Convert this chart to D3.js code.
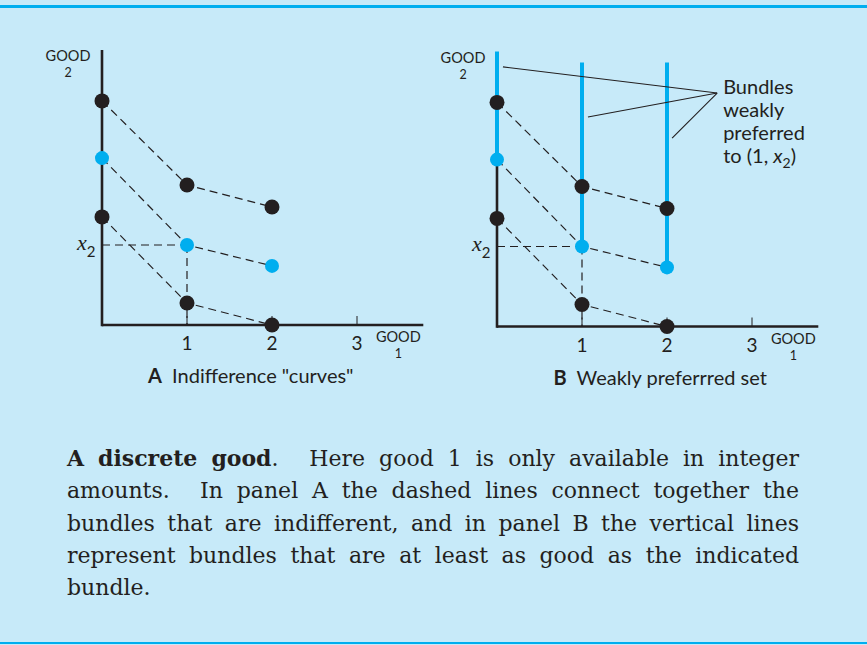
<!DOCTYPE html>
<html>
<head>
<meta charset="utf-8">
<script src="https://cdn.jsdelivr.net/npm/d3@7"></script>
<style>
    html, body { margin: 0; padding: 0; background: #c7eaf9; }
    svg { display: block; }
</style>
</head>
<body>
<div id="chart"></div>
<script>

// good 1 is only available in integer amounts
var goods1 = [0, 1, 2];
var tickValues = [1, 2, 3];
var tickLabels = ["1", "2", "3"];

// the three indifference "curves" (good 2 amounts at good1 = 0, 1, 2)
var curveTop = [8.15, 5.09, 4.29];
var curveMid = [6.07, 2.91, 2.15];
var curveLow = [3.93, 0.80, 0.00];

// top ends of the weakly preferred lines in panel B
var prefTop = [10.0, 9.6, 9.6];

// leader lines: start points (data units) and the label anchor
var leaderStarts = [[0.07, 9.44], [1.07, 7.62], [2.06, 6.85]];
var leaderAnchor = [2.59, 8.49];
var noteLines = ["Bundles", "weakly", "preferred"];

var captionLines = [
    "discrete good. Here good 1 is only available in integer",
    "amounts. In panel A the dashed lines connect together the",
    "bundles that are indifferent, and in panel B the vertical lines",
    "represent bundles that are at least as good as the indicated",
    "bundle."
];

var BLUE = "#00aeef";
var INK = "#231f20";
var SANS = "Lato, 'Open Sans', sans-serif";
var SERIF = "'DejaVu Serif', 'Liberation Serif', serif";

var W = 867, H = 645;

var svg = d3.select("#chart")
    .append("svg")
    .attr("width", W)
    .attr("height", H);

svg.append("rect")
    .attr("width", W)
    .attr("height", H)
    .attr("fill", "#c7eaf9");

// frame rules
svg.append("rect").attr("x", 0).attr("y", 5).attr("width", W).attr("height", 3).attr("fill", BLUE);
svg.append("rect").attr("x", 0).attr("y", 642).attr("width", W).attr("height", 2).attr("fill", BLUE);

var x = d3.scaleLinear().domain([0, 3.78]).range([0, 85 * 3.78]);
var y = d3.scaleLinear().domain([0, 10]).range([275, 0]);

var curves = [
    { vals: curveTop, color: INK },
    { vals: curveMid, color: BLUE },
    { vals: curveLow, color: INK }
];

var line = d3.line()
    .x(function (d, i) { return x(goods1[i]); })
    .y(function (d) { return y(d); });

function panel(g, showPref) {

    var x2 = curveMid[1];

    // dashed guides to (1, x2)
    g.append("line")
        .attr("x1", x(0)).attr("x2", x(1))
        .attr("y1", y(x2)).attr("y2", y(x2))
        .attr("stroke", INK).attr("stroke-width", 1.2)
        .attr("stroke-dasharray", "8,5");

    g.append("line")
        .attr("x1", x(1)).attr("x2", x(1))
        .attr("y1", y(x2)).attr("y2", y(0))
        .attr("stroke", INK).attr("stroke-width", 1.2)
        .attr("stroke-dasharray", "8,5");

    g.selectAll("path.curve")
        .data(curves)
        .enter().append("path")
        .attr("class", "curve")
        .attr("d", function (d) { return line(d.vals); })
        .attr("fill", "none")
        .attr("stroke", INK)
        .attr("stroke-width", 1.2)
        .attr("stroke-dasharray", "8,5");

    // axes
    g.append("line")
        .attr("x1", x(0)).attr("x2", x(3.78))
        .attr("y1", y(0)).attr("y2", y(0))
        .attr("stroke", INK).attr("stroke-width", 2.6);

    g.append("line")
        .attr("x1", x(0)).attr("x2", x(0))
        .attr("y1", showPref ? y(curveMid[0]) : y(10)).attr("y2", y(0) + 1.3)
        .attr("stroke", INK).attr("stroke-width", 2.6);

    g.selectAll("line.tick")
        .data(tickValues)
        .enter().append("line")
        .attr("class", "tick")
        .attr("x1", x).attr("x2", x)
        .attr("y1", y(0)).attr("y2", y(0) - 9)
        .attr("stroke", INK).attr("stroke-width", 1);

    g.selectAll("text.tick")
        .data(tickValues)
        .enter().append("text")
        .attr("class", "tick")
        .attr("x", x)
        .attr("y", y(0) + 25)
        .attr("text-anchor", "middle")
        .attr("font-family", SANS)
        .attr("font-size", 19)
        .attr("fill", INK)
        .text(function (d, i) { return tickLabels[i]; });

    // axis names, the small "1"/"2" sits below GOOD
    function axisName(cx, by, sub) {
        g.append("text")
            .attr("x", cx).attr("y", by)
            .attr("text-anchor", "middle")
            .attr("font-family", SANS)
            .attr("font-size", 14.5)
            .attr("fill", INK)
            .text("GOOD");
        g.append("text")
            .attr("x", cx).attr("y", by + 16)
            .attr("text-anchor", "middle")
            .attr("font-family", SANS)
            .attr("font-size", 12.5)
            .attr("fill", INK)
            .text(sub);
    }
    axisName(x(3.78) - 25, y(0) + 17, "1");
    axisName(x(0) - 34, y(10) + 11, "2");

    var lx = g.append("text")
        .attr("x", x(0) - 25)
        .attr("y", y(x2) + 5)
        .attr("font-family", "'Liberation Serif', serif")
        .attr("font-size", 22)
        .attr("fill", INK);
    lx.append("tspan").attr("font-style", "italic").text("x");
    lx.append("tspan").attr("font-size", 15).attr("font-family", SANS).attr("dy", 7).text("2");

    if (showPref) {
        g.selectAll("line.pref")
            .data(goods1)
            .enter().append("line")
            .attr("class", "pref")
            .attr("x1", x).attr("x2", x)
            .attr("y1", function (d, i) { return y(prefTop[i]); })
            .attr("y2", function (d, i) { return y(curveMid[i]); })
            .attr("stroke", BLUE)
            .attr("stroke-width", 4);
    }

    // bundles
    curves.forEach(function (c) {
        g.selectAll(null)
            .data(c.vals)
            .enter().append("circle")
            .attr("cx", function (d, i) { return x(goods1[i]); })
            .attr("cy", function (d) { return y(d); })
            .attr("r", c.color === BLUE ? 7 : 7.5)
            .attr("fill", c.color);
    });
}

var gA = svg.append("g").attr("transform", "translate(102,50)");
panel(gA, false);

var gB = svg.append("g").attr("transform", "translate(497,51.5)");
panel(gB, true);

// leader lines + note in panel B
gB.selectAll("line.leader")
    .data(leaderStarts)
    .enter().append("line")
    .attr("class", "leader")
    .attr("x1", function (d) { return x(d[0]); })
    .attr("y1", function (d) { return y(d[1]); })
    .attr("x2", x(leaderAnchor[0]))
    .attr("y2", y(leaderAnchor[1]))
    .attr("stroke", INK)
    .attr("stroke-width", 1.1);

var note = gB.append("text")
    .attr("x", x(leaderAnchor[0]) + 6)
    .attr("y", y(leaderAnchor[1]) + 1)
    .attr("font-family", SANS)
    .attr("font-size", 20)
    .attr("fill", INK);

noteLines.forEach(function (t, i) {
    note.append("tspan")
        .attr("x", x(leaderAnchor[0]) + 6)
        .attr("dy", i === 0 ? 0 : 23)
        .text(t);
});

note.append("tspan")
    .attr("x", x(leaderAnchor[0]) + 6)
    .attr("dy", 23)
    .text("to (1, ");
note.append("tspan").attr("font-style", "italic").text("x");
note.append("tspan").attr("font-size", 14).attr("dy", 5).text("2");
note.append("tspan").attr("dy", -5).text(")");

// panel titles
function title(g, at, letter, text) {
    var t = g.append("text")
        .attr("x", x(at))
        .attr("y", y(0) + 58)
        .attr("text-anchor", "middle")
        .attr("font-family", SANS)
        .attr("font-size", 20)
        .attr("fill", INK);
    t.append("tspan").attr("font-weight", "bold").text(letter);
    t.append("tspan").text("\u00a0 " + text);
}
title(gA, 1.75, "A", "Indifference \"curves\"");
title(gB, 1.92, "B", "Weakly preferrred set");

// caption, justified word by word
var capLeft = 67, capRight = 799, capTop = 466, capLead = 32.3;

var cap = svg.append("g")
    .attr("font-family", SERIF)
    .attr("font-size", 22)
    .attr("fill", INK);

captionLines.forEach(function (str, li) {

    var words = str.split(" ");
    if (li === 0) words.unshift("A");

    var nodes = words.map(function (w, wi) {
        var t = cap.append("text")
            .attr("y", capTop + li * capLead);
        if (li === 0 && wi < 3) {
            // bold title, the full stop stays regular
            var bare = w.replace(/\.$/, "");
            t.append("tspan").attr("font-weight", "bold").text(bare);
            if (bare !== w) t.append("tspan").text(".");
        } else {
            t.text(w);
        }
        return t;
    });

    var widths = nodes.map(function (n) { return n.node().getComputedTextLength(); });
    var weights = words.slice(0, -1).map(function (w) { return /\.$/.test(w) ? 2.2 : 1; });
    var total = d3.sum(widths);
    var gap = 7;

    if (li < captionLines.length - 1) {
        gap = (capRight - capLeft - total) / d3.sum(weights);
    }

    var cx = capLeft;
    nodes.forEach(function (n, i) {
        n.attr("x", cx);
        cx += widths[i] + (i < weights.length ? gap * weights[i] : 0);
    });
});

</script>
</body>
</html>
